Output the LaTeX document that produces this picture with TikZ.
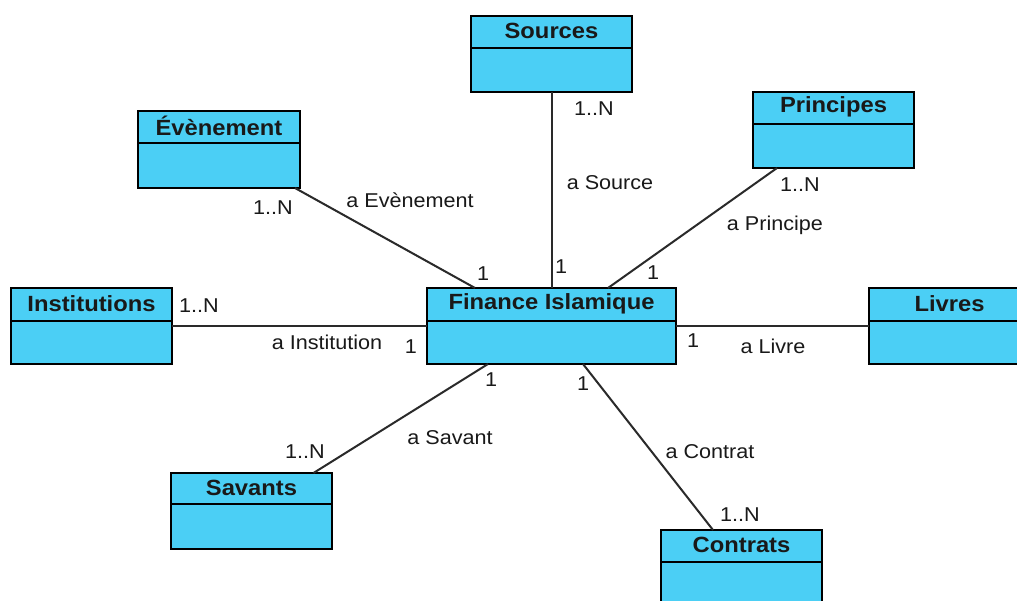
\documentclass[tikz,border=0pt]{standalone}
\usepackage{fontspec}
\setmainfont[FakeStretch=1.08]{Liberation Sans}
\definecolor{clsfill}{HTML}{4BCFF5}
\definecolor{linegray}{HTML}{2A2A2A}
\tikzset{
  cls/.style={draw=black, line width=1.6pt, fill=clsfill, inner sep=0pt, outer sep=0pt, anchor=north west},
  clstitle/.style={inner sep=0pt, font=\fontsize{22}{24}\selectfont\bfseries, text=black!90},
  assoc/.style={draw=linegray, line width=2pt},
  lbl/.style={inner sep=0pt, font=\fontsize{20}{22}\selectfont, text=black!90}
}
% name, left, top, right, divider, bottom, title
\newcommand{\umlclass}[7]{%
  \pgfmathsetmacro{\cw}{#4-#2}%
  \pgfmathsetmacro{\ch}{#6-#3}%
  \pgfmathsetmacro{\cty}{(#3+#5)/2-1}%
  \pgfmathsetmacro{\ctx}{(#2+#4)/2}%
  \node[cls, minimum width=\cw pt, minimum height=\ch pt] (#1) at (#2,#3) {};
  \draw[line width=1.6pt] (#2,#5) -- (#4,#5);
  \node[clstitle] (#1-title) at (\ctx,\cty) {#7};
}
\begin{document}
\begin{tikzpicture}[x=1pt,y=-1pt]
\clip (0,0) rectangle (1017,601);
\fill[white] (0,0) rectangle (1017,601);

\umlclass{src}{471}{16}{632}{48}{92}{Sources}
\umlclass{fin}{427}{288}{676}{321}{364}{Finance Islamique}
\umlclass{eve}{138}{111}{300}{143}{188}{Évènement}
\umlclass{pri}{753}{92}{914}{124}{168}{Principes}
\umlclass{ins}{11}{288}{172}{321}{364}{Institutions}
\umlclass{liv}{869}{288}{1030}{321}{364}{Livres}
\umlclass{sav}{171}{473}{332}{504}{549}{Savants}
\umlclass{con}{661}{530}{822}{562}{606}{Contrats}

% connectors
\draw[assoc] (src.south) -- (fin.north);
\draw[assoc] ([xshift=-5pt]eve.south east) -- ([xshift=-76.5pt]fin.north);
\draw[assoc] ([xshift=24pt]pri.south west) -- ([xshift=56.5pt]fin.north);
\draw[assoc] (ins.east) -- (fin.west);
\draw[assoc] (fin.east) -- (liv.west);
\draw[assoc] ([xshift=62pt]sav.north) -- ([xshift=-63.5pt]fin.south);
\draw[assoc] ([xshift=31.5pt]fin.south) -- ([xshift=-28.5pt]con.north);

% labels
\node[lbl] (l-src-n) at (594,109) {1..N};
\node[lbl] (l-src-a) at (610,183) {a Source};
\node[lbl] (l-src-1) at (561,267) {1};

\node[lbl] (l-pri-n) at (800,185) {1..N};
\node[lbl] (l-pri-a) at (775,225) {a Principe};
\node[lbl] (l-pri-1) at (653,273) {1};

\node[lbl] (l-eve-n) at (273,208) {1..N};
\node[lbl] (l-eve-a) at (410,200) {a Evènement};
\node[lbl] (l-eve-1) at (483,274) {1};

\node[lbl] (l-ins-n) at (199,306) {1..N};
\node[lbl] (l-ins-a) at (327,342) {a Institution};
\node[lbl] (l-ins-1) at (411,347) {1};

\node[lbl] (l-liv-1) at (693,341) {1};
\node[lbl] (l-liv-a) at (773,346) {a Livre};

\node[lbl] (l-sav-1) at (491,380) {1};
\node[lbl] (l-sav-n) at (305,452) {1..N};
\node[lbl] (l-sav-a) at (450,438) {a Savant};

\node[lbl] (l-con-1) at (583,384) {1};
\node[lbl] (l-con-a) at (710,452) {a Contrat};
\node[lbl] (l-con-n) at (740,515) {1..N};
\end{tikzpicture}
\end{document}
